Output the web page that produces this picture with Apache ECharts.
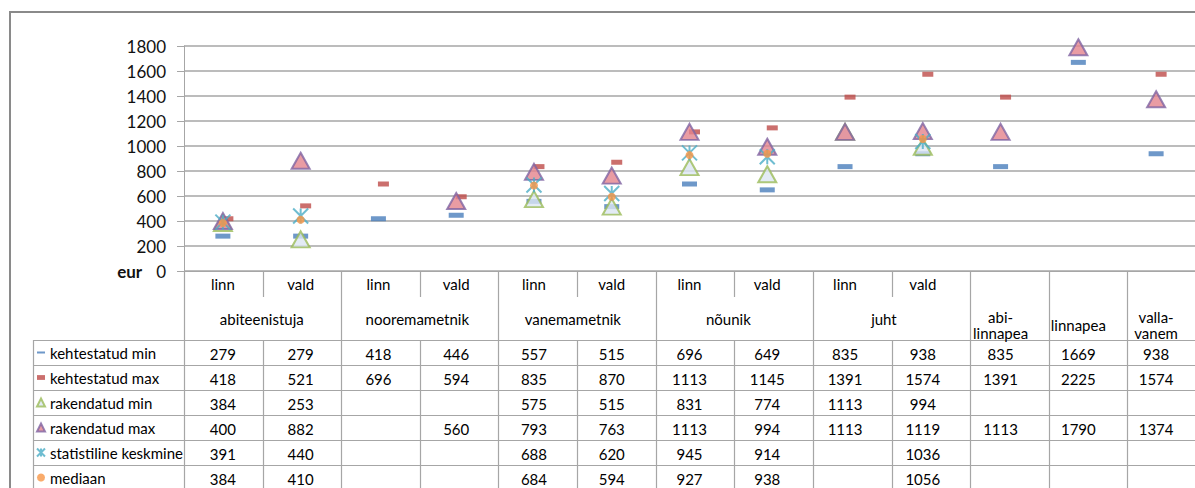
<!DOCTYPE html>
<html>
<head>
<meta charset="utf-8">
<script src="https://cdn.jsdelivr.net/npm/echarts@6/dist/echarts.min.js"></script>
<style>
  html, body { margin: 0; padding: 0; background: #fff; }
  #main { width: 1195px; height: 488px; }
</style>
</head>
<body>
<div id="main"></div>
<script>
// kategooriad
const groups = ['abiteenistuja', 'nooremametnik', 'vanemametnik', 'nõunik', 'juht'];
const subs = ['linn', 'vald'];
const singles = ['abi-\nlinnapea', 'linnapea', 'valla-\nvanem'];
const yTicks = [0, 200, 400, 600, 800, 1000, 1200, 1400, 1600, 1800];

// andmed (tabeli järgi)
const seriesNames = ['kehtestatud min', 'kehtestatud max', 'rakendatud min', 'rakendatud max', 'statistiline keskmine', 'mediaan'];
const kehtestatudMin = [279, 279, 418, 446, 557, 515, 696, 649, 835, 938, 835, 1669, 938];
const kehtestatudMax = [418, 521, 696, 594, 835, 870, 1113, 1145, 1391, 1574, 1391, 2225, 1574];
const rakendatudMin = [384, 253, null, null, 575, 515, 831, 774, 1113, 994, null, null, null];
const rakendatudMax = [400, 882, null, 560, 793, 763, 1113, 994, 1113, 1119, 1113, 1790, 1374];
const statKeskmine = [391, 440, null, null, 688, 620, 945, 914, null, 1036, null, null, null];
const mediaan = [384, 410, null, null, 684, 594, 927, 938, null, 1056, null, null, null];

const categories = [];
groups.forEach(g => subs.forEach(s => categories.push(g + ' ' + s)));
singles.forEach(s => categories.push(s.replace('\n', '')));

const allData = [kehtestatudMin, kehtestatudMax, rakendatudMin, rakendatudMax, statKeskmine, mediaan];

const FONT = 'Lato, "Open Sans", sans-serif';
const GRID = { left: 184, top: 46, width: 1022, height: 225 };
const ROW_H = 25;
const LINE = '#a6a6a6';
const starPath = 'path://M0,0L10,10M10,0L0,10M5,0L5,10';

let chartDom = document.getElementById('main');
let myChart = echarts.init(chartDom, null, { renderer: 'svg' });

let option = {
  animation: false,
  textStyle: { fontFamily: FONT },
  grid: GRID,
  legend: {
    orient: 'vertical',
    left: 36,
    top: 340,
    height: 200,
    padding: 0,
    itemGap: 0,
    itemWidth: 8,
    itemHeight: 8,
    itemTextGap: 3,
    selectedMode: false,
    textStyle: { fontFamily: FONT, fontSize: 15, color: '#000', lineHeight: ROW_H },
    data: [
      { name: seriesNames[0], icon: 'path://M0,0h8v2h-8z' },
      { name: seriesNames[1], icon: 'path://M0,0h5v3h-5z' },
      { name: seriesNames[2], icon: 'triangle' },
      { name: seriesNames[3], icon: 'triangle' },
      { name: seriesNames[4], icon: starPath },
      { name: seriesNames[5], icon: 'circle' }
    ]
  },
  xAxis: {
    type: 'category',
    data: categories,
    axisLine: { show: true, lineStyle: { color: LINE } },
    axisTick: { show: false },
    axisLabel: { show: false },
    splitLine: { show: false }
  },
  yAxis: {
    type: 'value',
    min: 0,
    max: 1800,
    interval: 200,
    axisLine: { show: true, lineStyle: { color: LINE } },
    axisTick: { show: true, length: 7, lineStyle: { color: LINE } },
    splitLine: { lineStyle: { color: LINE, width: 1.5 } },
    axisLabel: {
      margin: 18,
      fontFamily: FONT,
      fontSize: 17,
      color: '#111',
      formatter: function (v) {
        return v === 0 ? '{e|eur}' + v : String(v);
      },
      rich: {
        e: { fontFamily: FONT, fontSize: 17, fontWeight: 'bold', color: '#111', padding: [0, 14, 0, 0] }
      }
    }
  },
  series: [
    {
      name: seriesNames[0], type: 'scatter', data: kehtestatudMin,
      symbol: 'rect', symbolSize: [15, 5],
      itemStyle: { color: '#4a7ebb' }
    },
    {
      name: seriesNames[1], type: 'scatter', data: kehtestatudMax,
      symbol: 'rect', symbolSize: [11, 5], symbolOffset: [5, 0],
      itemStyle: { color: '#be4b48' }
    },
    {
      name: seriesNames[2], type: 'scatter', data: rakendatudMin,
      symbol: 'triangle', symbolSize: [18, 16],
      itemStyle: { color: '#dce6f2', borderColor: '#9bbb59', borderWidth: 2 }
    },
    {
      name: seriesNames[3], type: 'scatter', data: rakendatudMax,
      symbol: 'triangle', symbolSize: [18, 16],
      itemStyle: { color: '#e4838c', borderColor: '#8064a2', borderWidth: 2 }
    },
    {
      name: seriesNames[4], type: 'scatter', data: statKeskmine,
      symbol: starPath, symbolSize: 15,
      itemStyle: { color: 'rgba(0,0,0,0)', borderColor: '#4bacc6', borderWidth: 2 }
    },
    {
      name: seriesNames[5], type: 'scatter', data: mediaan,
      symbol: 'circle', symbolSize: 8,
      itemStyle: { color: '#f79646' }
    }
  ]
};
myChart.setOption(option);

// andmetabel joonise all
function buildTable() {
  const els = [];
  const n = categories.length;
  const colW = GRID.width / n;
  const top = GRID.top + GRID.height;          // 0-joon
  const subBottom = top + 26;
  const headBottom = top + 69;
  const tableBottom = headBottom + ROW_H * seriesNames.length + 2;
  const legendLeft = 33;
  const rightEdge = GRID.left + GRID.width + 5;
  const cx = i => myChart.convertToPixel({ xAxisIndex: 0 }, i);
  const line = (x1, y1, x2, y2) => els.push({
    type: 'line', silent: true,
    shape: { x1, y1, x2, y2 },
    style: { stroke: LINE, lineWidth: 1.2 }
  });
  const text = (x, y, t) => els.push({
    type: 'text', silent: true, x, y,
    style: { text: t, fill: '#000', font: '15px ' + FONT, align: 'center', verticalAlign: 'middle', lineHeight: 16 }
  });

  // vertikaalsed jooned
  for (let k = 0; k <= n; k++) {
    const x = Math.round(GRID.left + k * colW) + 0.5;
    const inPair = k < groups.length * 2 && k % 2 === 1;
    if (inPair) {
      line(x, top, x, subBottom);
      line(x, headBottom, x, tableBottom);
    } else {
      line(x, top, x, tableBottom);
    }
  }
  line(legendLeft + 0.5, headBottom, legendLeft + 0.5, tableBottom);
  // horisontaalsed jooned
  for (let r = 0; r <= seriesNames.length; r++) {
    const y = headBottom + r * ROW_H + 0.5;
    line(legendLeft, y, rightEdge, y);
  }

  // päised
  groups.forEach((g, gi) => {
    subs.forEach((s, si) => text(cx(gi * 2 + si), top + 13, s));
    text((cx(gi * 2) + cx(gi * 2 + 1)) / 2, top + 48, g);
  });
  singles.forEach((s, si) => text(cx(groups.length * 2 + si), top + 54, s));

  // väärtused
  allData.forEach((arr, r) => {
    arr.forEach((v, i) => {
      if (v !== null) text(cx(i), headBottom + r * ROW_H + ROW_H / 2 + 1, String(v));
    });
  });

  // välimine raam
  els.push({
    type: 'rect', silent: true,
    shape: { x: 10, y: 12, width: 1200, height: 500 },
    style: { fill: 'none', stroke: '#8a8a8a', lineWidth: 2 }
  });
  myChart.setOption({ graphic: { elements: els } });
}
buildTable();
</script>
</body>
</html>
